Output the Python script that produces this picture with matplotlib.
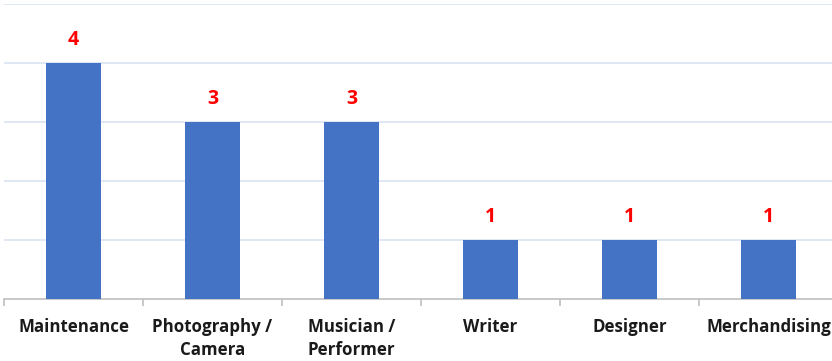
import matplotlib
matplotlib.use("Agg")
import matplotlib.pyplot as plt
import numpy as np

categories = ["Maintenance", "Photography /\nCamera", "Musician /\nPerformer",
              "Writer", "Designer", "Merchandising"]
counts = [4, 3, 3, 1, 1, 1]

W, H = 832, 361
fig = plt.figure(figsize=(W / 100, H / 100), dpi=100)
ax = fig.add_axes([4 / W, (H - 299) / H, 834 / W, 295 / H])

x = np.arange(len(categories))
bars = ax.bar(x, counts, width=0.4, color="#4472C4", zorder=3)

ax.set_xlim(-0.5, len(categories) - 0.5)
ax.set_ylim(0, 5)
ax.set_yticks(np.arange(1, 6))
ax.yaxis.grid(True, color="#D9E1F2", linewidth=1.2, zorder=0)
ax.tick_params(axis="y", left=False, labelleft=False)

for s in ["top", "right", "left"]:
    ax.spines[s].set_visible(False)
ax.spines["bottom"].set_color("#BFBFBF")
ax.spines["bottom"].set_linewidth(1.2)

# category boundaries carry the tick marks, labels sit under the bars
ax.set_xticks(np.arange(len(categories) + 1) - 0.5)
ax.set_xticklabels([])
ax.tick_params(axis="x", length=5, width=1.2, color="#BFBFBF")
for xi, lab in zip(x, categories):
    ax.text(xi, -0.32, lab, ha="center", va="top", fontsize=12.2,
            fontweight="bold", family="Open Sans", color="#1a1a1a",
            linespacing=1.38, transform=ax.transData, clip_on=False)

for b, v in zip(bars, counts):
    ax.text(b.get_x() + b.get_width() / 2, v + 0.22, str(v), ha="center",
            va="bottom", fontsize=14, fontweight="bold", color="#FF0000",
            family="Open Sans")

fig.savefig("out.png", dpi=100)
